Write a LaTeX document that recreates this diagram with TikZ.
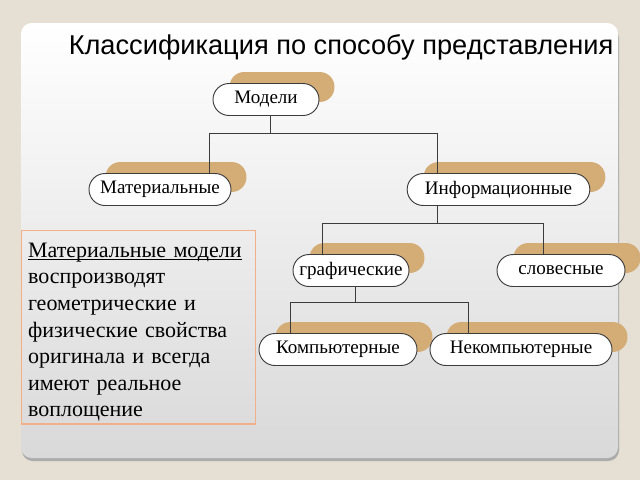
\documentclass[tikz,border=0pt]{standalone}
\usepackage{fontspec}
\setmainfont{Liberation Serif}
\newfontfamily\titlefont{Liberation Sans}
\usetikzlibrary{calc}
\definecolor{bgbeige}{RGB}{229,223,212}
\definecolor{brushtan}{RGB}{212,172,118}
\definecolor{boxorange}{RGB}{243,176,135}
\definecolor{edgegray}{RGB}{60,60,60}
\newcommand\undl[1]{\setbox0\hbox{#1}\rlap{\rule[-1.8pt]{\wd0}{0.7pt}}\box0}
\pgfdeclarelayer{bg}
\pgfdeclarelayer{brushl}
\pgfdeclarelayer{linel}
\pgfsetlayers{bg,brushl,linel,main}
\begin{document}
\begin{tikzpicture}[x=0.75pt,y=-0.75pt,
	pill/.style={draw=edgegray,fill=white,line width=0.7pt,rounded corners=12pt,
	minimum height=24pt,inner xsep=0pt,font=\fontsize{14.3}{16}\selectfont},
	conn/.style={draw=edgegray,line width=0.7pt},
	brush/.style={fill=brushtan,rounded corners=11pt}]
\useasboundingbox (0,0) rectangle (640,480);
% nodes
\node[pill,minimum width=79.5pt] (modeli) at (266,99.5) {Модели};
\node[pill,minimum width=106.5pt] (mat) at (160,189.5) {Материальные};
\node[pill,minimum width=137pt] (info) at (498.5,189.5) {Информационные};
\node[pill,minimum width=87pt] (graf) at (351,270.5) {графические};
\node[pill,minimum width=96pt] (slov) at (561,270.5) {словесные};
\node[pill,minimum width=118.5pt] (komp) at (338,349.5) {Компьютерные};
\node[pill,minimum width=136.5pt] (nekomp) at (521,349.5) {Некомпьютерные};
\node[font=\titlefont\fontsize{20.4}{24}\selectfont] (title) at (341,47) {Классификация по способу представления};
\node[draw=boxorange,line width=1pt,anchor=north west,minimum width=175.5pt,minimum height=145pt,
	inner xsep=4.5pt,inner ysep=1pt,align=left,text width=166pt,
	font=\fontsize{16.5}{19.9}\selectfont] (note) at (21,230)
	{\rule{0pt}{18pt}\undl{Материальные модели}\\воспроизводят\\геометрические и\\физические свойства\\оригинала и всегда\\имеют реальное\\воплощение};
% panel
\begin{pgfonlayer}{bg}
\fill[bgbeige] (0,0) rectangle (640,480);
\fill[gray!65,rounded corners=8pt] (22,27) rectangle (619,461);
\shade[top color=white,bottom color=black!15,rounded corners=8pt] (21,23) rectangle (618,458);
\end{pgfonlayer}
% brush strokes
\begin{pgfonlayer}{brushl}
\foreach \n in {modeli,mat,info,graf,slov,komp,nekomp}
	\fill[brush] ($(\n.south west)+(17,-14)$) rectangle ($(\n.north east)+(15,-11)$);
\end{pgfonlayer}
% connectors
\begin{pgfonlayer}{linel}
\draw[conn] ($(modeli.south)+(4,0)$) -- ++(0,17) coordinate (j1);
\draw[conn] ($(mat.north)+(49,0)$) |- (j1) -| ($(info.north)+(-61.5,0)$);
\draw[conn] ($(info.south)+(-61.5,0)$) -- ++(0,17) coordinate (j2);
\draw[conn] ($(graf.north)+(-29,0)$) |- (j2) -| ($(slov.north)+(-18,0)$);
\draw[conn] ($(graf.south)+(4,0)$) -- ++(0,15) coordinate (j3);
\draw[conn] ($(komp.north)+(-48,0)$) |- (j3) -| ($(nekomp.north)+(-53,0)$);
\end{pgfonlayer}
\end{tikzpicture}
\end{document}
